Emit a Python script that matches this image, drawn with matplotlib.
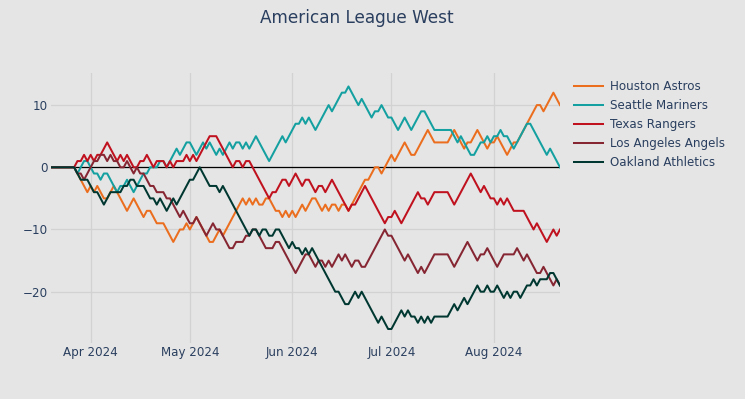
import matplotlib
matplotlib.use("Agg")
import matplotlib.pyplot as plt
import pandas as pd

# ---------------- data ----------------
dates = pd.date_range("2024-03-20", "2024-08-21", freq="D")

teams = ["Houston Astros", "Seattle Mariners", "Texas Rangers",
         "Los Angeles Angels", "Oakland Athletics"]
colors = ["#EB6E1F", "#14A0A0", "#C0111F", "#862633", "#003831"]

houston = [
    0, 0, 0, 0, 0, 0, 0, 0, -1, -2,
    -3, -4, -3, -4, -3, -4, -5, -5, -4, -3,
    -4, -5, -6, -7, -6, -5, -6, -7, -8, -7,
    -7, -8, -9, -9, -9, -10, -11, -12, -11, -10,
    -10, -9, -10, -9, -8, -9, -10, -11, -12, -12,
    -11, -10, -11, -10, -9, -8, -7, -6, -5, -6,
    -5, -6, -5, -6, -6, -5, -5, -6, -7, -7,
    -8, -7, -8, -7, -8, -7, -6, -7, -6, -5,
    -5, -6, -7, -6, -7, -6, -6, -7, -6, -6,
    -7, -6, -5, -4, -3, -2, -2, -1, 0, 0,
    -1, 0, 1, 2, 1, 2, 3, 4, 3, 2,
    2, 3, 4, 5, 6, 5, 4, 4, 4, 4,
    4, 5, 6, 5, 4, 3, 4, 4, 5, 6,
    5, 4, 3, 4, 4, 5, 4, 3, 2, 3,
    4, 4, 5, 6, 7, 8, 9, 10, 10, 9,
    10, 11, 12, 11, 10,
]

seattle = [
    0, 0, 0, 0, 0, 0, 0, 0, -1, 0,
    1, 1, 0, -1, -1, -2, -1, -1, -2, -3,
    -4, -3, -3, -2, -3, -4, -3, -2, -1, -1,
    0, 0, 0, 1, 1, 0, 1, 2, 3, 2,
    3, 4, 4, 3, 2, 3, 4, 3, 4, 3,
    2, 3, 2, 3, 4, 3, 4, 4, 3, 4,
    3, 4, 5, 4, 3, 2, 1, 2, 3, 4,
    5, 4, 5, 6, 7, 7, 8, 7, 8, 7,
    6, 7, 8, 9, 10, 9, 10, 11, 12, 12,
    13, 12, 11, 10, 11, 10, 9, 8, 9, 9,
    10, 9, 8, 8, 7, 6, 7, 8, 7, 6,
    7, 8, 9, 9, 8, 7, 6, 6, 6, 6,
    6, 6, 5, 4, 5, 4, 3, 2, 2, 3,
    4, 4, 5, 4, 5, 5, 6, 5, 5, 4,
    3, 4, 5, 6, 7, 7, 6, 5, 4, 3,
    2, 3, 2, 1, 0,
]

texas = [
    0, 0, 0, 0, 0, 0, 0, 0, 1, 1,
    2, 1, 2, 1, 2, 2, 3, 4, 3, 2,
    1, 2, 1, 2, 1, 0, 0, 1, 1, 2,
    1, 0, 1, 1, 1, 0, 1, 0, 1, 1,
    1, 2, 1, 2, 1, 2, 3, 4, 5, 5,
    5, 4, 3, 2, 1, 0, 1, 1, 0, 1,
    1, 0, -1, -2, -3, -4, -5, -4, -4, -3,
    -2, -2, -3, -2, -1, -2, -3, -2, -2, -3,
    -4, -3, -3, -4, -3, -2, -3, -4, -5, -6,
    -7, -6, -6, -5, -4, -3, -4, -5, -6, -7,
    -8, -9, -8, -8, -7, -8, -9, -8, -7, -6,
    -5, -4, -5, -5, -6, -5, -4, -4, -4, -4,
    -4, -5, -6, -5, -4, -3, -2, -1, -2, -3,
    -4, -3, -4, -5, -5, -6, -5, -6, -5, -6,
    -7, -7, -7, -7, -8, -9, -10, -9, -10, -11,
    -12, -11, -10, -11, -10,
]

angels = [
    0, 0, 0, 0, 0, 0, 0, 0, -1, -1,
    -2, -1, 0, 1, 1, 2, 2, 1, 2, 1,
    1, 0, 0, 1, 0, -1, 0, -1, -1, -2,
    -3, -3, -4, -4, -4, -5, -5, -6, -7, -8,
    -7, -8, -9, -9, -8, -9, -10, -11, -10, -9,
    -10, -10, -11, -12, -13, -13, -12, -12, -12, -11,
    -11, -10, -10, -11, -12, -13, -13, -13, -12, -12,
    -13, -14, -15, -16, -17, -16, -15, -14, -14, -15,
    -16, -15, -15, -16, -15, -16, -15, -14, -15, -14,
    -15, -16, -15, -15, -16, -16, -15, -14, -13, -12,
    -11, -10, -11, -11, -12, -13, -14, -15, -14, -15,
    -16, -17, -16, -17, -16, -15, -14, -14, -14, -14,
    -14, -15, -16, -15, -14, -13, -12, -13, -14, -15,
    -14, -14, -13, -14, -15, -16, -15, -14, -14, -14,
    -14, -13, -14, -15, -14, -15, -16, -17, -17, -16,
    -17, -18, -19, -18, -19,
]

oakland = [
    0, 0, 0, 0, 0, 0, 0, 0, -1, -2,
    -2, -2, -3, -4, -4, -5, -6, -5, -4, -4,
    -4, -4, -3, -3, -2, -2, -3, -3, -3, -4,
    -5, -5, -6, -5, -6, -7, -6, -5, -6, -5,
    -4, -3, -2, -2, -1, 0, -1, -2, -3, -3,
    -3, -4, -3, -4, -5, -6, -7, -8, -9, -10,
    -11, -10, -10, -11, -10, -10, -11, -11, -10, -10,
    -11, -12, -13, -12, -13, -13, -14, -13, -14, -13,
    -14, -15, -16, -17, -18, -19, -20, -20, -21, -22,
    -22, -21, -20, -21, -20, -21, -22, -23, -24, -25,
    -24, -25, -26, -26, -25, -24, -23, -24, -23, -24,
    -24, -25, -24, -25, -24, -25, -24, -24, -24, -24,
    -24, -23, -22, -23, -22, -21, -22, -21, -20, -19,
    -20, -20, -19, -20, -20, -19, -20, -21, -20, -21,
    -20, -20, -21, -20, -19, -19, -18, -19, -18, -18,
    -18, -17, -17, -18, -19,
]

series = [houston, seattle, texas, angels, oakland]

x_ticks = ["2024-04-01", "2024-05-01", "2024-06-01", "2024-07-01", "2024-08-01"]
x_ticklabels = ["Apr 2024", "May 2024", "Jun 2024", "Jul 2024", "Aug 2024"]
y_ticks = [-20, -10, 0, 10]
title = "American League West"

# ---------------- figure ----------------
W, H = 745, 399
BG = "#e5e5e5"
TXT = "#2a3f5f"
fig = plt.figure(figsize=(W / 100, H / 100), dpi=100, facecolor=BG)
ax = fig.add_axes([51 / W, 1 - 343 / H, (560 - 51) / W, (343 - 73) / H])
ax.set_facecolor(BG)

for name, vals, col in zip(teams, series, colors):
    ax.plot(dates, vals, color=col, lw=1.45, label=name,
            solid_joinstyle="round", zorder=3)

ax.axhline(0, color="black", lw=0.9, zorder=2.5)

ax.set_xlim(dates[0], dates[-1])
ax.set_ylim(-28.25, 15.16)
ax.set_xticks(pd.to_datetime(x_ticks))
ax.set_xticklabels(x_ticklabels)
ax.set_yticks(y_ticks)
ax.set_yticklabels([str(v).replace("-", "\u2212") for v in y_ticks])

ax.grid(True, color="#d2d2d2", lw=0.9, zorder=1)
ax.set_axisbelow(True)
for s in ax.spines.values():
    s.set_visible(False)
ax.tick_params(axis="both", length=0, labelsize=8.6, labelcolor=TXT)
ax.tick_params(axis="x", pad=2.5)
ax.tick_params(axis="y", pad=2.5)

fig.text(357 / W, 1 - 18 / H, title, ha="center", va="center",
         fontsize=12.2, color=TXT)

leg = fig.legend(loc="upper left", bbox_to_anchor=(574 / W, 1 - 80 / H),
                 frameon=False, fontsize=8.6, handlelength=2.45,
                 handletextpad=0.55, labelspacing=0.5, borderpad=0,
                 borderaxespad=0)
for t in leg.get_texts():
    t.set_color(TXT)

fig.savefig("out.png", dpi=100, facecolor=BG)
